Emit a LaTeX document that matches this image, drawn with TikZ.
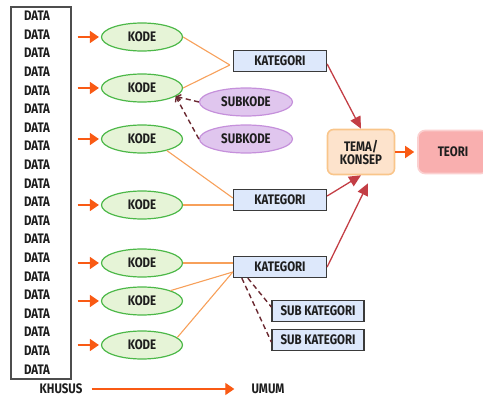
\documentclass[tikz,border=0pt]{standalone}
\usepackage{fontspec}
\setmainfont{Fira Sans}[FakeStretch=0.83]
\usetikzlibrary{shapes.geometric,arrows.meta,calc}

\definecolor{kodefill}{HTML}{E6F4D7}
\definecolor{kodeline}{HTML}{4CB848}
\definecolor{subfill}{HTML}{E0C6EE}
\definecolor{subline}{HTML}{C590DB}
\definecolor{katfill}{HTML}{DDE8FB}
\definecolor{katline}{HTML}{3A3A3A}
\definecolor{temafill}{HTML}{FDE3CC}
\definecolor{temaline}{HTML}{F9C58A}
\definecolor{teorifill}{HTML}{F9AFAF}
\definecolor{teoriline}{HTML}{FBD0D0}
\definecolor{arrowor}{HTML}{F95A14}
\definecolor{linkor}{HTML}{F7A05A}
\definecolor{redar}{HTML}{C33E45}
\definecolor{dashc}{HTML}{6A2830}
\definecolor{ink}{HTML}{1E1E1E}

\tikzset{
  lbl/.style={font=\bfseries\fontsize{13.8}{14}\selectfont, text=ink, inner sep=0pt},
  databox/.style={rectangle, draw=katline!90, line width=1.4pt, fill=white,
    minimum width=60pt, minimum height=372pt},
  kode/.style={ellipse, lbl, draw=kodeline, fill=kodefill, line width=1.2pt,
    minimum width=81pt, minimum height=28pt},
  subkode/.style={ellipse, lbl, draw=subline, fill=subfill, line width=1.2pt,
    minimum width=93pt, minimum height=28pt},
  katbox/.style={rectangle, lbl, draw=katline, fill=katfill, line width=1.3pt,
    minimum width=93pt, minimum height=21pt},
  subkat/.style={katbox, minimum width=92pt},
  feed/.style={draw=arrowor, line width=1.6pt, -{Triangle[length=9pt,width=12pt]}},
  link/.style={draw=linkor, line width=1.1pt},
  toward/.style={draw=redar, line width=1.3pt, -{Triangle[length=12pt,width=11pt]}},
  back/.style={draw=dashc, line width=1.4pt, dash pattern=on 5pt off 3.5pt,
    -{Straight Barb[length=4pt,width=6pt]}},
}

\begin{document}
\begin{tikzpicture}[x=1pt, y=-1pt]
\useasboundingbox (0,0) rectangle (483,398);

% column of raw data
\node[databox] (data) at (41,193) {};
\foreach \i in {1,...,20} {
  \node[lbl] (d\i) at (37,{16+(\i-1)*18.6}) {DATA};
}

% codes
\node[kode] (k1) at (142,37)  {KODE};
\node[kode] (k2) at (142,88)  {KODE};
\node[kode] (k3) at (142,139) {KODE};
\node[kode] (k4) at (142,205) {KODE};
\node[kode] (k5) at (142,263) {KODE};
\node[kode] (k6) at (142,301) {KODE};
\node[kode] (k7) at (142,345) {KODE};

\foreach \k in {k1,k2,k3,k4,k5,k6,k7} {
  \draw[feed, shorten <=6pt, shorten >=2pt] (data.east |- \k) -- (\k.west);
}

% sub-codes
\node[subkode] (s1) at (246,102) {SUBKODE};
\node[subkode] (s2) at (246,139) {SUBKODE};

% categories
\node[katbox] (c1) at (280,61)  {KATEGORI};
\node[katbox] (c2) at (280,200) {KATEGORI};
\node[katbox] (c3) at (280,267) {KATEGORI};

\node[subkat] (sc1) at (318,311) {SUB KATEGORI};
\node[subkat] (sc2) at (318,340) {SUB KATEGORI};

% theme and theory
\node[lbl, align=center, rounded corners=6pt, draw=temaline, fill=temafill,
  line width=1.6pt, minimum width=67pt, minimum height=45pt] (tema) at (361,152)
  {TEMA/\\[-1pt]KONSEP};
\node[lbl, rounded corners=7pt, draw=teoriline, fill=teorifill,
  line width=1.6pt, minimum width=70pt, minimum height=43pt] (teori) at (453,152)
  {TEORI};

% codes grouped into categories
\draw[link] (k1.east) -- ([xshift=-3pt,yshift=-4pt]c1.west);
\draw[link] (k2.east) -- ([xshift=-3pt,yshift=-4pt]c1.west);
\draw[link] (k3.-25) -- ([yshift=2pt]c2.west);
\draw[link] (k4.east) -- (c2.west |- k4.east);
\draw[link] (k5.east) -- (c3.west |- k5.east);
\draw[link] (k6.20) -- ([yshift=-5pt]c3.west);
\draw[link] (k7.12) -- ([yshift=-5pt]c3.west);

% sub-codes point back to their code
\draw[back] (s1.west) -- (k2.-14);
\draw[back] (s2.west) -- (k2.-14);

% sub-categories under the third category
\draw[back, -] ([xshift=15pt]c3.south west) -- ([yshift=4pt]sc1.west);
\draw[back, -] ([xshift=9pt]c3.south west) -- ([yshift=-2pt]sc2.west);

% categories lead to the theme
\draw[toward] ([yshift=-3pt]c1.east) -- (tema.north);
\draw[toward] ([yshift=4pt]c2.east) -- (tema.south);
\draw[toward] (c3.east) -- ([xshift=7pt,yshift=-8pt]tema.south);

\draw[feed, shorten >=3pt] (tema.east) -- (teori.west);

% from specific to general
\node[lbl] (khusus) at (61,389) {KHUSUS};
\node[lbl] (umum) at (268,389) {UMUM};
\draw[feed, line width=1.3pt, shorten <=9pt, shorten >=17pt] (khusus.east) -- (umum.west);
\end{tikzpicture}
\end{document}
